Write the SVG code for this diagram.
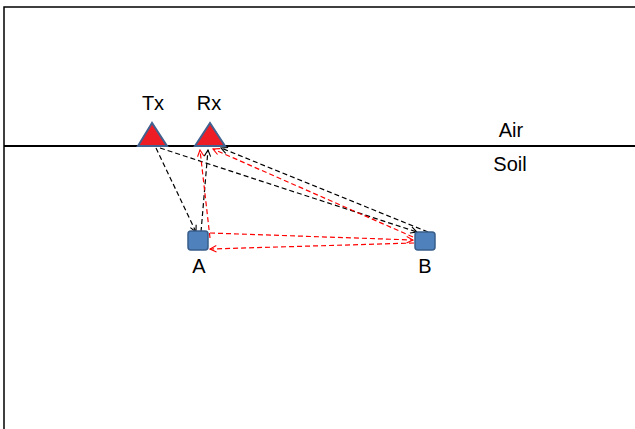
<svg xmlns="http://www.w3.org/2000/svg" width="635" height="429" viewBox="0 0 635 429">
<style>
.lbl{font-family:"Liberation Sans",Arial,sans-serif;font-size:20px;fill:#000;text-anchor:middle}
.tri{fill:#EE1C25;stroke:#41618F;stroke-width:2;stroke-linejoin:miter}
.box{fill:#4F81BD;stroke:#385D8A;stroke-width:1.5}
.bk{fill:none;stroke:#000;stroke-width:1.2;stroke-dasharray:5 3;marker-end:url(#ab)}
.rd{fill:none;stroke:#FF0000;stroke-width:1.2;stroke-dasharray:5 3;marker-end:url(#ar)}
</style>
<defs>
<marker id="ab" viewBox="0 0 10 10" refX="9" refY="5" markerWidth="8" markerHeight="8" markerUnits="userSpaceOnUse" orient="auto">
<path d="M1,1 L9,5 L1,9" fill="none" stroke="#000" stroke-width="1.4"/>
</marker>
<marker id="ar" viewBox="0 0 10 10" refX="9" refY="5" markerWidth="8" markerHeight="8" markerUnits="userSpaceOnUse" orient="auto">
<path d="M1,1 L9,5 L1,9" fill="none" stroke="#FF0000" stroke-width="1.4"/>
</marker>
</defs>
<rect width="635" height="429" fill="#fff"/>
<path d="M4,429 V7 H635" fill="none" stroke="#000" stroke-width="1.5"/>
<g id="ground">
<line x1="4" y1="146" x2="635" y2="146" stroke="#000" stroke-width="2"/>
<text class="lbl" x="511" y="137">Air</text>
<text class="lbl" x="510" y="171">Soil</text>
</g>
<g id="connectors">
<path class="bk" d="M156,148 L196,232"/>
<path class="bk" d="M201,232 L208,150"/>
<path class="bk" d="M160,148 L417,232"/>
<path class="bk" d="M428,232 L221,148"/>
<path class="rd" d="M210,238 L200,150"/>
<path class="rd" d="M413,237 L213,149"/>
<path class="rd" d="M210,233 L413,240"/>
<path class="rd" d="M414,243 L210,249"/>
</g>
<g id="Tx">
<polygon class="tri" points="152,123 138,146 167,146"/>
<text class="lbl" x="153" y="110">Tx</text>
</g>
<g id="Rx">
<polygon class="tri" points="210,123 195,146 225,146"/>
<text class="lbl" x="209" y="110">Rx</text>
</g>
<g id="A">
<rect class="box" x="188" y="231" width="20" height="19" rx="3"/>
<text class="lbl" x="199" y="273">A</text>
</g>
<g id="B">
<rect class="box" x="415" y="232" width="20" height="18" rx="3"/>
<text class="lbl" x="425" y="273">B</text>
</g>
</svg>
